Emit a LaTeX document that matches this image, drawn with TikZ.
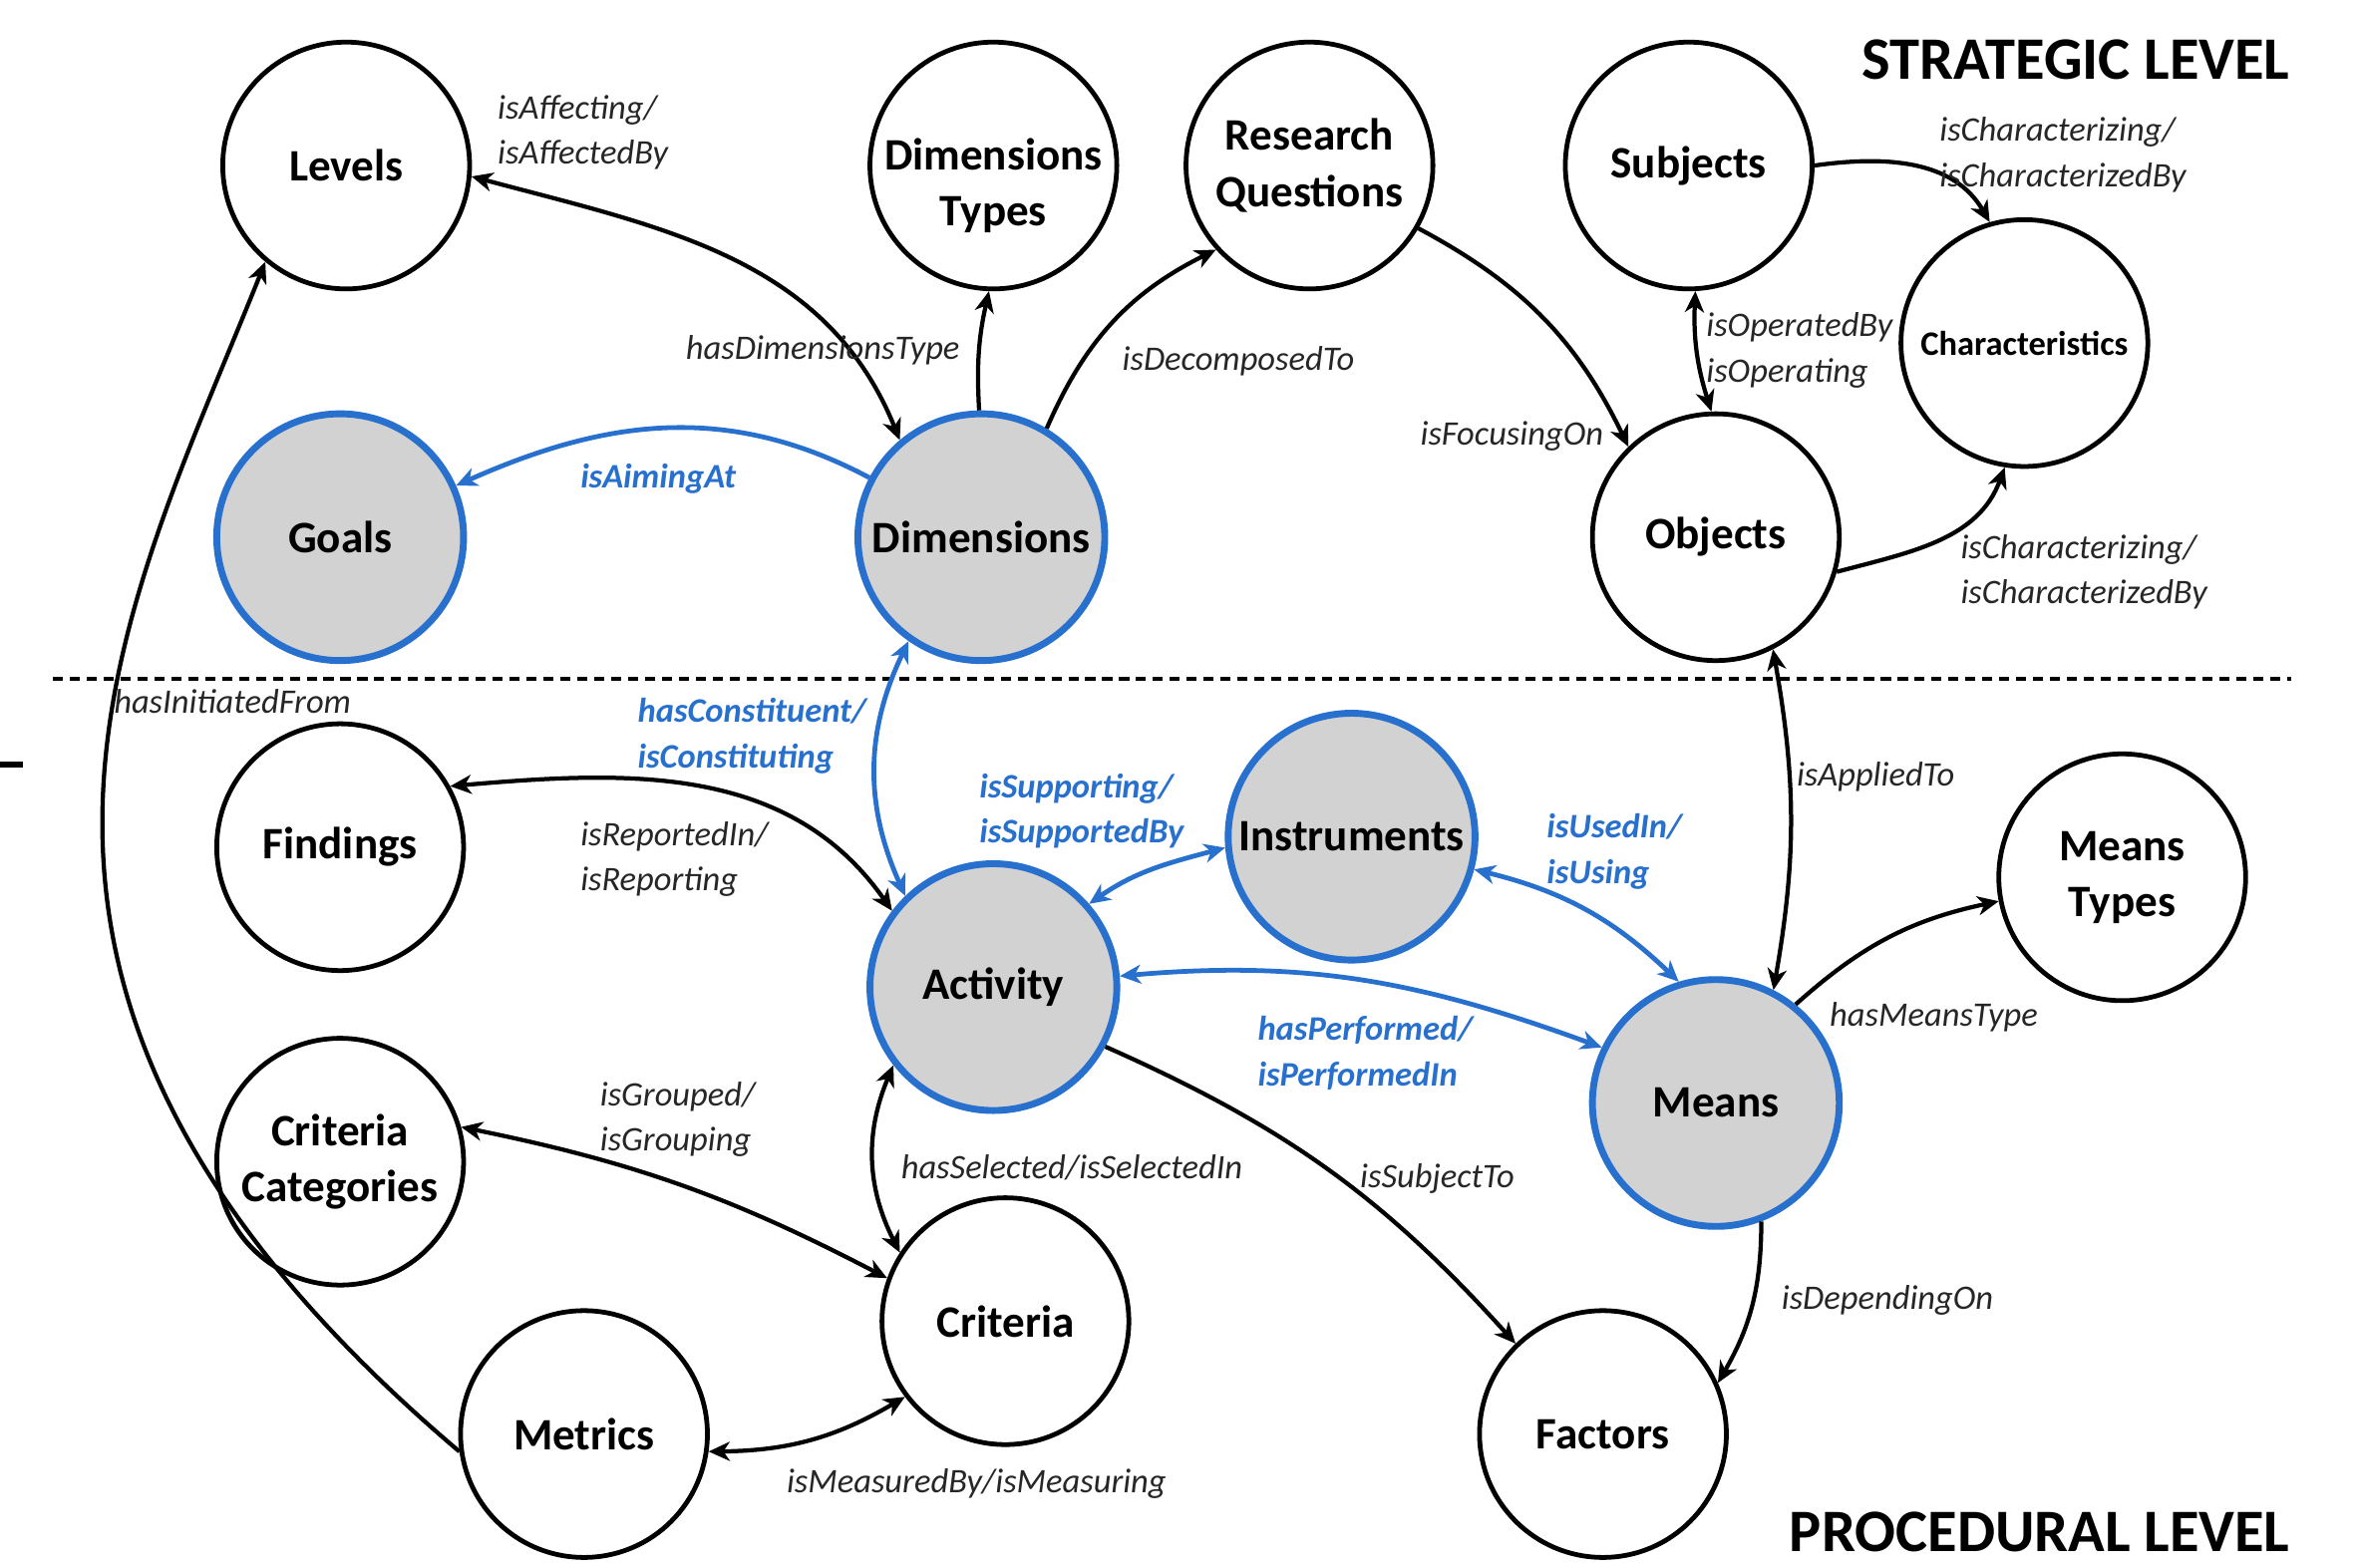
\documentclass[tikz,border=0pt]{standalone}
\usepackage{fontspec}
\setmainfont{Carlito}
\usetikzlibrary{arrows.meta}
\definecolor{linkblue}{RGB}{40,112,205}
\definecolor{coregray}{RGB}{210,210,210}

\begin{document}
\begin{tikzpicture}[
    concept/.style={circle,draw,line width=0.9pt,minimum size=1.64cm,inner sep=0pt,align=center,
      font=\fontsize{8.5}{10.6}\selectfont\bfseries},
    core/.style={concept,draw=linkblue,line width=1.3pt,fill=coregray},
    rel/.style={anchor=west,align=left,inner sep=0pt,text=black!85,
      font=\fontsize{6.5}{8.6}\selectfont\itshape},
    bluerel/.style={rel,text=linkblue,font=\fontsize{6.5}{8.6}\selectfont\bfseries\itshape},
    levelname/.style={anchor=east,inner sep=0pt,font=\fontsize{11.4}{13}\selectfont\bfseries},
    link/.style={line width=0.8pt},
    bluelink/.style={line width=0.9pt,linkblue},
    >={Stealth[length=4pt,width=3.6pt,inset=1.2pt]}
  ]

      \useasboundingbox (0,0) rectangle (15.68,10.42);

      \node[concept] (lev) at (2.30,9.32) {Levels};
      \node[concept] (dtyp) at (6.60,9.32) {\raisebox{-1.4mm}[\height][\depth]{\begin{tabular}{@{}c@{}}Dimensions\\Types\end{tabular}}};
      \node[concept] (rq) at (8.70,9.32) {Research\\Questions};
      \node[concept] (subj) at (11.22,9.32) {Subjects};
      \node[concept,font=\fontsize{6.5}{8}\selectfont\bfseries] (chr) at (13.45,8.14) {Characteristics};
      \node[core] (goal) at (2.26,6.85) {Goals};
      \node[core] (dim) at (6.52,6.85) {Dimensions};
      \node[concept] (obj) at (11.40,6.85) {Objects};

      \node[concept] (find) at (2.26,4.79) {Findings};
      \node[core] (act) at (6.60,3.86) {Activity};
      \node[core] (ins) at (8.98,4.86) {Instruments};
      \node[concept] (mtyp) at (14.10,4.59) {Means\\Types};
      \node[core] (mean) at (11.40,3.09) {Means};
      \node[concept] (ccat) at (2.26,2.70) {Criteria\\Categories};
      \node[concept] (crit) at (6.68,1.64) {Criteria};
      \node[concept] (metr) at (3.88,0.89) {Metrics};
      \node[concept] (fact) at (10.65,0.89) {Factors};

      \node[levelname] (strat) at (15.22,10.02) {STRATEGIC LEVEL};
      \node[levelname] (proc) at (15.22,0.24) {PROCEDURAL LEVEL};

      \draw[line width=0.8pt,dash pattern=on 1.9pt off 1.3pt] (0.35,5.91) -- (15.22,5.91);
      \draw[line width=1pt] (0,5.34) -- (0.15,5.34);

      \draw[link,<->] (lev.-5) to[out=-15,in=112] (dim.130);
      \draw[link,->] (dim.91) to[bend left=8] (dtyp.-92);
      \draw[link,->] (dim.59) to[bend left=20] (rq.222);
      \draw[link,->] (rq.-30) to[bend left=18] (obj.134);
      \draw[link,<->] (subj.-87) to[bend right=10] (obj.92);
      \draw[link,->] (subj.0) to[out=8,in=120] (chr.106);
      \draw[link,->] (obj.-16) to[out=15,in=250] (chr.261);
      \draw[bluelink,->] (dim.152) to[out=152,in=24] (goal.24);
      \draw[bluelink,<->] (dim.235) to[bend right=25] (act.134);
      \draw[link,->] (metr.188) .. controls (-0.60,3.87) and (0.82,6.32) .. (lev.230);

      \draw[link,<->] (find.29) to[out=5,in=125] (act.143);
      \draw[bluelink,<->] (act.41) to[out=35,in=195] (ins.185);
      \draw[bluelink,<->] (ins.-15) to[bend left=15] (mean.107);
      \draw[bluelink,<->] (act.5) to[out=5,in=160] (mean.154);
      \draw[link,<->] (obj.-63) to[bend left=10] (mean.63);
      \draw[link,->] (mean.51) to[bend left=15] (mtyp.191);
      \draw[link,->] (act.-28) to[bend left=12] (fact.134);
      \draw[link,->] (mean.-69) to[bend left=15] (fact.24);
      \draw[link,<->] (act.218) to[bend right=25] (crit.147);
      \draw[link,<->] (ccat.16) to[bend left=8] (crit.160);
      \draw[link,<->] (metr.-8) to[bend right=15] (crit.217);

      \node[rel] (affect) at (3.30,9.54) {isAffecting/\\isAffectedBy};
      \node[rel] (dimtype) at (4.55,8.09) {hasDimensionsType};
      \node[rel] (decomp) at (7.45,8.02) {isDecomposedTo};
      \node[rel] (focus) at (9.43,7.52) {isFocusingOn};
      \node[rel] (operate) at (11.33,8.09) {isOperatedBy\\isOperating};
      \node[rel] (charsub) at (12.88,9.39) {isCharacterizing/\\isCharacterizedBy};
      \node[rel] (charobj) at (13.02,6.62) {isCharacterizing/\\isCharacterizedBy};
      \node[bluerel] (aim) at (3.85,7.24) {isAimingAt};
      \node[bluerel] (constit) at (4.23,5.53) {hasConstituent/\\isConstituting};
      \node[rel] (init) at (0.75,5.76) {hasInitiatedFrom};
      \node[rel] (report) at (3.85,4.71) {isReportedIn/\\isReporting};
      \node[bluerel] (support) at (6.50,5.03) {isSupporting/\\isSupportedBy};
      \node[bluerel] (use) at (10.27,4.76) {isUsedIn/\\isUsing};
      \node[bluerel] (perform) at (8.35,3.42) {hasPerformed/\\isPerformedIn};
      \node[rel] (apply) at (11.93,5.26) {isAppliedTo};
      \node[rel] (meanstype) at (12.15,3.66) {hasMeansType};
      \node[rel] (subject) at (9.03,2.59) {isSubjectTo};
      \node[rel] (depend) at (11.83,1.78) {isDependingOn};
      \node[rel] (select) at (5.98,2.66) {hasSelected/isSelectedIn};
      \node[rel] (group) at (3.98,2.98) {isGrouped/\\isGrouping};
      \node[rel] (measure) at (5.22,0.56) {isMeasuredBy/isMeasuring};

    \end{tikzpicture}
\end{document}
